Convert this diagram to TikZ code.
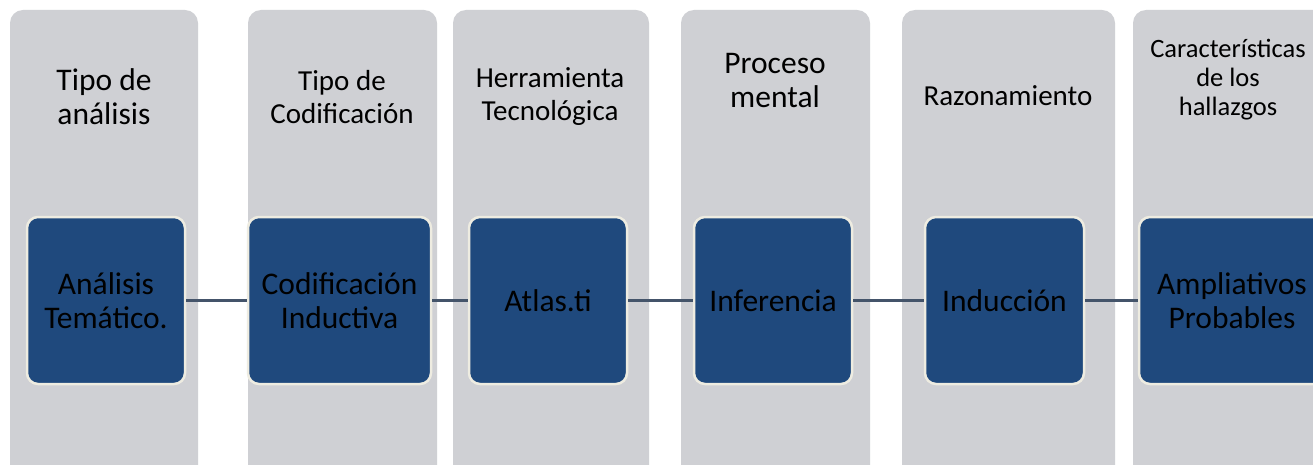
\documentclass[tikz,border=0pt]{standalone}
\usepackage{fontspec}
\setmainfont{Carlito}
\definecolor{colgray}{HTML}{CFD0D4}
\definecolor{boxblue}{HTML}{1F497D}
\definecolor{boxedge}{HTML}{EEECE1}
\definecolor{linkcol}{HTML}{44546A}
\tikzset{
  column/.style={fill=colgray, rounded corners=13pt},
  itembox/.style={draw=boxedge, line width=2.5pt, fill=boxblue, rounded corners=11pt,
    minimum height=167pt, align=center, inner sep=0pt,
    font=\fontsize{31.5}{34}\selectfont, text=black},
  headbig/.style={align=center, font=\fontsize{31.5}{34}\selectfont, text=black},
  headmid/.style={align=center, font=\fontsize{29}{33}\selectfont, text=black},
  headsmall/.style={align=center, font=\fontsize{26.5}{29}\selectfont, text=black},
  link/.style={draw=linkcol, line width=2.2pt}
}
\begin{document}
\begin{tikzpicture}[x=1pt,y=-1pt]
\useasboundingbox (0,0) rectangle (1313,465);
\clip (0,0) rectangle (1313,465);
\fill[white] (0,0) rectangle (1313,465);
% columns
\fill[column] (10,10) rectangle (198,490);
\fill[column] (248,10) rectangle (437,490);
\fill[column] (453,10) rectangle (649,490);
\fill[column] (681,10) rectangle (870,490);
\fill[column] (902,10) rectangle (1115,490);
\fill[column] (1133,10) rectangle (1331,490);
% headers
\node[headbig] (h1) at (104,97) {Tipo de\\análisis};
\node[headmid] (h2) at (342,97) {Tipo de\\Codificación};
\node[headmid] (h3) at (550,97) {Herramienta\\Tecnológica};
\node[headbig] (h4) at (775,81) {Proceso\\mental};
\node[headmid] (h5) at (1008,96) {Razonamiento};
\node[headsmall] (h6) at (1228,80) {Características\\de los\\hallazgos};
% boxes
\node[itembox, minimum width=158pt] (b1) at (106,300.5) {Análisis\\Temático.};
\node[itembox, minimum width=183pt] (b2) at (339.5,300.5) {Codificación\\Inductiva};
\node[itembox, minimum width=158pt] (b3) at (548,300.5) {Atlas.ti};
\node[itembox, minimum width=158pt] (b4) at (773,300.5) {Inferencia};
\node[itembox, minimum width=159pt] (b5) at (1004.5,300.5) {Inducción};
\node[itembox, minimum width=186pt] (b6) at (1232,300.5) {Ampliativos\\Probables};
% connectors
\draw[link] (b1.east) -- (b2.west);
\draw[link] (b2.east) -- (b3.west);
\draw[link] (b3.east) -- (b4.west);
\draw[link] (b4.east) -- (b5.west);
\draw[link] (b5.east) -- (b6.west);
\end{tikzpicture}
\end{document}
